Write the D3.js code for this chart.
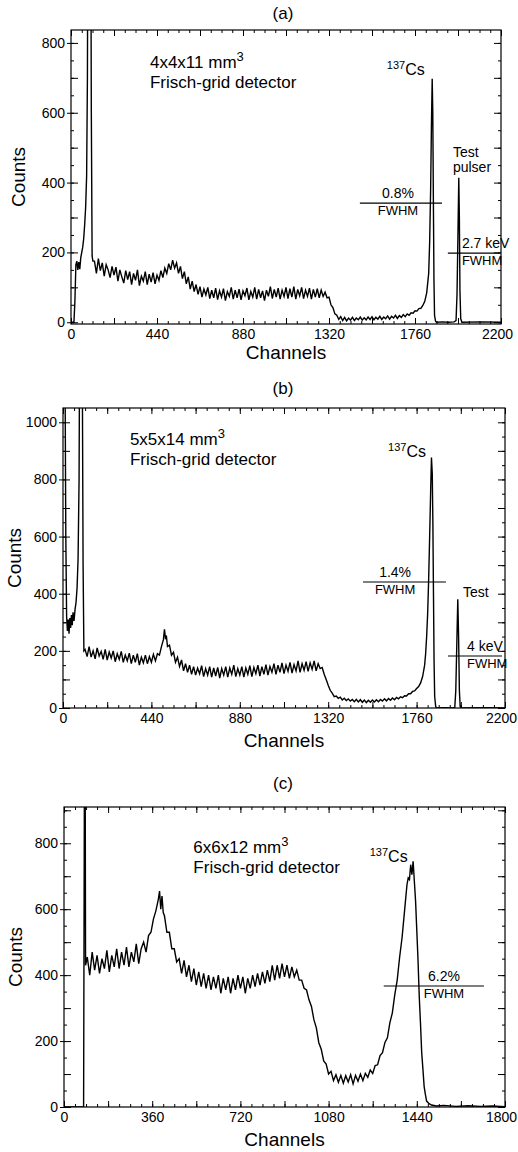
<!DOCTYPE html>
<html>
<head>
<meta charset="utf-8">
<script src="https://cdn.jsdelivr.net/npm/d3@7/dist/d3.min.js"></script>
<style>
body { margin: 0; background: #fff; }
text { font-family: "Liberation Sans", Arial, sans-serif; fill: #000; }
.axis path { display: none; }
.axis line { stroke: #000; stroke-width: 1; }
.axis text { font-size: 14px; }
</style>
</head>
<body>
<div id="chart"></div>
<script>
// spectra: [channel, counts]
var specA = [[0,0],[10,0],[15,0],[20,60],[25,165],[30,175],[35,150],[40,172],[45,152],[50,185],[55,200],[60,215],[65,240],[70,280],[75,330],[80,420],[84,700],[88,1500],[92,2500],[96,2200],[100,1400],[104,600],[108,190],[112,175],
[120,175],[130,140],[140,182],[150,148],[160,170],[170,132],[180,165],[190,150],[200,128],[210,160],[220,135],[230,158],[240,118],[250,150],[260,130],[270,112],[280,148],[290,122],[300,145],[310,108],[320,140],[330,120],[340,150],[350,105],[360,132],[370,118],[380,145],[390,108],[400,138],[410,115],[420,142],[430,110],[440,135],[450,120],[460,148],[470,128],[480,155],[490,140],[500,168],[510,150],[520,178],[530,155],[540,170],[550,140],[560,160],[570,125],[580,145],[590,110],[600,130],[610,95],[620,118],[630,88],[640,108],[650,80],[660,102],[670,72],[680,95],[690,78],[700,100],[710,68],[720,92],[730,70],[740,98],[750,65],[760,90],[770,72],[780,96],[790,62],[800,88],[810,74],[820,100],[830,66],[840,92],[850,70],[860,95],[870,64],[880,90],[890,76],[900,98],[910,64],[920,88],[930,72],[940,100],[950,66],[960,94],[970,70],[980,90],[990,62],[1000,92],[1010,74],[1020,102],[1030,68],[1040,94],[1050,72],[1060,98],[1070,66],[1080,92],[1090,74],[1100,100],[1110,68],[1120,96],[1130,72],[1140,102],[1150,66],[1160,94],[1170,76],[1180,100],[1190,68],[1200,92],[1210,74],[1220,98],[1230,66],[1240,94],[1250,72],[1260,96],[1270,70],[1280,92],[1290,74],[1300,86],[1310,70],[1320,72],[1330,50],[1340,42],[1350,24],[1360,20],[1370,8],[1380,16],[1390,5],[1400,14],[1410,4],[1420,12],[1430,6],[1440,14],[1450,5],[1460,12],[1470,7],[1480,15],[1490,6],[1500,13],[1510,7],[1520,15],[1530,8],[1540,16],[1550,7],[1560,14],[1570,9],[1580,17],[1590,8],[1600,15],[1610,10],[1620,18],[1630,9],[1640,17],[1650,12],[1660,20],[1670,11],[1680,19],[1690,14],[1700,22],[1710,16],[1720,24],[1730,20],[1740,27],[1750,26],[1760,33],[1770,32],[1780,39],[1790,40],[1800,48],[1810,60],[1820,85],[1830,140],[1835,230],[1840,380],[1844,560],[1848,697],[1851,600],[1854,350],[1857,120],[1860,20],[1865,3],[1870,0],[1900,1],[1930,0],[1960,1],[1970,5],[1975,80],[1980,260],[1984,414],[1987,300],[1990,90],[1994,10],[2000,0],[2100,1],[2200,0]];

var specB = [[0,1200],[10,1200],[14,600],[18,320],[22,270],[26,310],[30,260],[34,315],[38,280],[42,325],[46,290],[50,335],[55,305],[60,345],[65,370],[70,420],[75,520],[80,800],[84,1500],[88,2500],[92,2000],[96,1200],[100,500],[104,200],
[110,205],[120,180],[130,215],[140,178],[150,200],[160,172],[170,210],[180,182],[190,198],[200,170],[210,205],[220,168],[230,196],[240,175],[250,200],[260,162],[270,190],[280,170],[290,198],[300,160],[310,185],[320,165],[330,192],[340,155],[350,185],[360,160],[370,190],[380,150],[390,178],[400,158],[410,185],[420,155],[430,180],[440,160],[450,188],[460,165],[470,190],[480,185],[490,215],[500,240],[505,275],[510,245],[515,250],[520,215],[530,220],[540,185],[550,195],[560,160],[570,178],[580,145],[590,168],[600,130],[610,155],[620,125],[630,150],[640,118],[650,145],[660,115],[670,140],[680,120],[690,148],[700,110],[710,138],[720,115],[730,145],[740,108],[750,140],[760,112],[770,142],[780,105],[790,138],[800,115],[810,145],[820,108],[830,140],[840,118],[850,150],[860,110],[870,138],[880,115],[890,145],[900,108],[910,140],[920,118],[930,148],[940,110],[950,142],[960,120],[970,150],[980,112],[990,145],[1000,118],[1010,152],[1020,115],[1030,145],[1040,125],[1050,155],[1060,118],[1070,150],[1080,125],[1090,158],[1100,120],[1110,150],[1120,128],[1130,160],[1140,122],[1150,152],[1160,130],[1170,165],[1180,125],[1190,155],[1200,132],[1210,162],[1220,128],[1230,158],[1240,135],[1250,165],[1260,130],[1270,155],[1280,138],[1290,142],[1300,118],[1310,100],[1320,80],[1330,62],[1340,52],[1350,40],[1360,42],[1370,34],[1380,38],[1390,28],[1400,34],[1410,26],[1420,32],[1430,24],[1440,30],[1450,22],[1460,30],[1470,21],[1480,29],[1490,20],[1500,28],[1510,19],[1520,27],[1530,20],[1540,28],[1550,21],[1560,29],[1570,22],[1580,30],[1590,24],[1600,32],[1610,25],[1620,33],[1630,27],[1640,35],[1650,29],[1660,37],[1670,32],[1680,39],[1690,36],[1700,43],[1710,42],[1720,50],[1730,50],[1740,58],[1750,60],[1760,68],[1770,75],[1780,88],[1790,110],[1800,150],[1805,190],[1810,250],[1815,330],[1820,450],[1825,600],[1830,760],[1834,877],[1838,820],[1841,650],[1844,400],[1847,160],[1850,40],[1855,5],[1860,0],[1900,1],[1940,0],[1950,2],[1955,60],[1960,220],[1965,381],[1969,250],[1973,60],[1977,5],[1985,0],[2100,1],[2200,0]];

var specC = [[0,0],[40,0],[80,0],[84,1200],[86,1200],[88,430],
[95,455],[105,400],[115,470],[125,415],[135,460],[145,405],[155,450],[165,420],[175,475],[185,410],[195,460],[205,425],[215,480],[225,420],[235,470],[245,430],[255,485],[265,425],[275,470],[285,440],[295,495],[305,435],[315,480],[325,500],[335,470],[345,520],[355,530],[365,570],[375,595],[385,630],[390,655],[395,600],[400,640],[405,590],[410,580],[420,530],[430,530],[440,480],[450,480],[460,440],[470,450],[480,405],[490,445],[500,395],[510,430],[520,380],[530,420],[540,370],[550,410],[560,365],[570,405],[580,360],[590,400],[600,355],[610,395],[620,360],[630,400],[640,345],[650,390],[660,355],[670,395],[680,345],[690,390],[700,355],[710,400],[720,360],[730,395],[740,345],[750,390],[760,360],[770,400],[780,365],[790,405],[800,370],[810,410],[820,375],[830,415],[840,380],[850,430],[860,385],[870,430],[880,390],[890,435],[900,395],[910,430],[920,390],[930,425],[940,395],[950,415],[960,385],[970,385],[980,360],[990,355],[1000,325],[1010,305],[1020,265],[1030,240],[1040,195],[1050,175],[1060,140],[1070,130],[1080,100],[1090,108],[1100,80],[1110,98],[1120,75],[1130,96],[1140,72],[1150,95],[1160,76],[1170,98],[1180,70],[1190,96],[1200,78],[1210,100],[1220,80],[1230,102],[1240,90],[1250,112],[1260,102],[1270,126],[1280,128],[1290,156],[1300,165],[1310,196],[1320,210],[1330,255],[1340,285],[1350,340],[1360,385],[1370,455],[1380,515],[1390,595],[1395,635],[1400,675],[1405,695],[1410,690],[1415,735],[1420,705],[1425,745],[1430,685],[1435,625],[1440,535],[1445,445],[1450,335],[1455,255],[1460,165],[1465,115],[1470,62],[1475,38],[1480,18],[1490,10],[1500,6],[1520,3],[1550,5],[1600,2],[1650,4],[1700,2],[1750,3],[1800,1]];

// labelled ticks
var xTicksAB = [0, 440, 880, 1320, 1760, 2200];
var xTicksC = [0, 360, 720, 1080, 1440, 1800];
var yTicksA = [0, 200, 400, 600, 800];
var yTicksB = [0, 200, 400, 600, 800, 1000];
var yTicksC = [0, 200, 400, 600, 800];

var titles = ["(a)", "(b)", "(c)"];
var sizes = ["4x4x11 mm", "5x5x14 mm", "6x6x12 mm"];

var svg = d3.select("#chart").append("svg")
  .attr("width", 518)
  .attr("height", 1152);

var panels = [
  { spec: specA, xMax: 2200, xTicks: xTicksAB, xMinor: 55, yDom: [-5, 837], yTicks: yTicksA,
    left: 71, right: 501, top: 30, bottom: 324, titleY: 19, countsX: 18, chanY: 359,
    size: [404, 728], cs: [1616, 707], fwhm: { label: "0.8%", x1: 1478, x2: 1898, y: 341, tx: 1673 },
    pulser: { lines: ["Test", "pulser"], x: 1954, ys: [473, 430] },
    pfw: { label: "2.7 keV", x1: 1928, x2: 2194, y: 198, tx: 2000 } },
  { spec: specB, xMax: 2200, xTicks: xTicksAB, xMinor: 55, yDom: [0, 1050], yTicks: yTicksB,
    left: 63, right: 505, top: 408, bottom: 708, titleY: 394, countsX: 14, chanY: 747,
    size: [333, 920], cs: [1618, 879], fwhm: { label: "1.4%", x1: 1493, x2: 1906, y: 441, tx: 1653 },
    pulser: { lines: ["Test"], x: 1991, ys: [389] },
    pfw: { label: "4 keV", x1: 1916, x2: 2185, y: 182, tx: 2011 } },
  { spec: specC, xMax: 1800, xTicks: xTicksC, xMinor: 45, yDom: [0, 910], yTicks: yTicksC,
    left: 64, right: 505, top: 807, bottom: 1107, titleY: 789, countsX: 15, chanY: 1146,
    size: [528, 770], cs: [1248, 743], fwhm: { label: "6.2%", x1: 1305, x2: 1714, y: 367, tx: 1551 } }
];

panels.forEach(function(p, i) {
  var width = p.right - p.left;
  var height = p.bottom - p.top;
  var g = svg.append("g").attr("transform", `translate(${p.left}, ${p.top})`);

  var x = d3.scaleLinear().domain([0, p.xMax]).range([0, width]);
  var y = d3.scaleLinear().domain(p.yDom).range([height, 0]);

  g.append("clipPath").attr("id", "clip" + i)
    .append("rect").attr("width", width).attr("height", height);

  // spectrum
  var line = d3.line().x(d => x(d[0])).y(d => y(d[1]));
  g.append("path")
    .datum(p.spec)
    .attr("clip-path", `url(#clip${i})`)
    .attr("fill", "none")
    .attr("stroke", "#000")
    .attr("stroke-width", 1.4)
    .attr("stroke-linejoin", "miter")
    .attr("d", line);

  // frame
  g.append("rect").attr("width", width).attr("height", height)
    .attr("fill", "none").attr("stroke", "#000").attr("stroke-width", 1.2);

  var xMinor = d3.range(0, p.xMax + 1, p.xMinor);
  var xMid = d3.range(0, p.xMax + 1, p.xMinor * 4);
  var yMinor = d3.range(0, p.yDom[1], 50);
  var yMid = d3.range(0, p.yDom[1], 100);

  // bottom labels
  var xAxis = g.append("g").attr("class", "axis")
    .attr("transform", `translate(0, ${height})`)
    .call(d3.axisBottom(x).tickValues(p.xTicks).tickSize(0).tickPadding(5).tickFormat(d3.format("d")));
  // last label sits a little inside, as in the original
  xAxis.selectAll(".tick").filter(d => d === p.xMax).select("text").attr("dx", -4);
  // inward ticks, bottom and top
  [[xMinor, 3], [xMid, 6]].forEach(function(t) {
    g.append("g").attr("class", "axis").attr("transform", `translate(0, ${height})`)
      .call(d3.axisTop(x).tickValues(t[0]).tickSize(t[1]).tickFormat(""));
    g.append("g").attr("class", "axis")
      .call(d3.axisBottom(x).tickValues(t[0]).tickSize(t[1]).tickFormat(""));
  });

  // left labels with outward ticks
  g.append("g").attr("class", "axis")
    .call(d3.axisLeft(y).tickValues(p.yTicks).tickSize(4).tickPadding(2).tickFormat(d3.format("d")));
  [[yMinor, 3], [yMid, 7]].forEach(function(t) {
    g.append("g").attr("class", "axis")
      .call(d3.axisRight(y).tickValues(t[0]).tickSize(t[1]).tickFormat(""));
    g.append("g").attr("class", "axis").attr("transform", `translate(${width}, 0)`)
      .call(d3.axisLeft(y).tickValues(t[0]).tickSize(t[1]).tickFormat(""));
  });

  // titles
  svg.append("text").attr("x", 283).attr("y", p.titleY)
    .attr("text-anchor", "middle").style("font-size", "17px").text(titles[i]);
  svg.append("text")
    .attr("transform", `translate(${p.countsX}, ${p.top + height / 2}) rotate(-90)`)
    .attr("text-anchor", "middle").attr("dy", "0.35em")
    .style("font-size", "19px").text("Counts");
  svg.append("text").attr("x", p.left + width / 2).attr("y", p.chanY)
    .attr("text-anchor", "middle").style("font-size", "19px").text("Channels");

  // detector description
  var sz = g.append("text").attr("x", x(p.size[0])).attr("y", y(p.size[1]))
    .style("font-size", "17px");
  sz.append("tspan").text(sizes[i]);
  sz.append("tspan").attr("dy", -7).style("font-size", "13px").text("3");
  g.append("text").attr("x", x(p.size[0])).attr("y", y(p.size[1]) + 20)
    .style("font-size", "17px").text("Frisch-grid detector");

  // 137Cs label
  var cs = g.append("text").attr("x", x(p.cs[0])).attr("y", y(p.cs[1]));
  cs.append("tspan").attr("dy", -6).style("font-size", "11px").text("137");
  cs.append("tspan").attr("dy", 6).style("font-size", "16px").text("Cs");

  // FWHM marker
  function fwhmMark(f, anchor) {
    g.append("line")
      .attr("x1", x(f.x1)).attr("x2", x(f.x2))
      .attr("y1", y(f.y)).attr("y2", y(f.y))
      .attr("stroke", "#000").attr("stroke-width", 1.2);
    g.append("text").attr("x", x(f.tx)).attr("y", y(f.y) - 5)
      .attr("text-anchor", anchor).style("font-size", "14px").text(f.label);
    g.append("text").attr("x", x(f.tx)).attr("y", y(f.y) + 12)
      .attr("text-anchor", anchor).style("font-size", "13px").text("FWHM");
  }
  fwhmMark(p.fwhm, "middle");

  if (p.pulser) {
    p.pulser.lines.forEach(function(s, k) {
      g.append("text").attr("x", x(p.pulser.x)).attr("y", y(p.pulser.ys[k]))
        .style("font-size", "14px").text(s);
    });
    fwhmMark(p.pfw, "start");
  }
});
</script>
</body>
</html>
